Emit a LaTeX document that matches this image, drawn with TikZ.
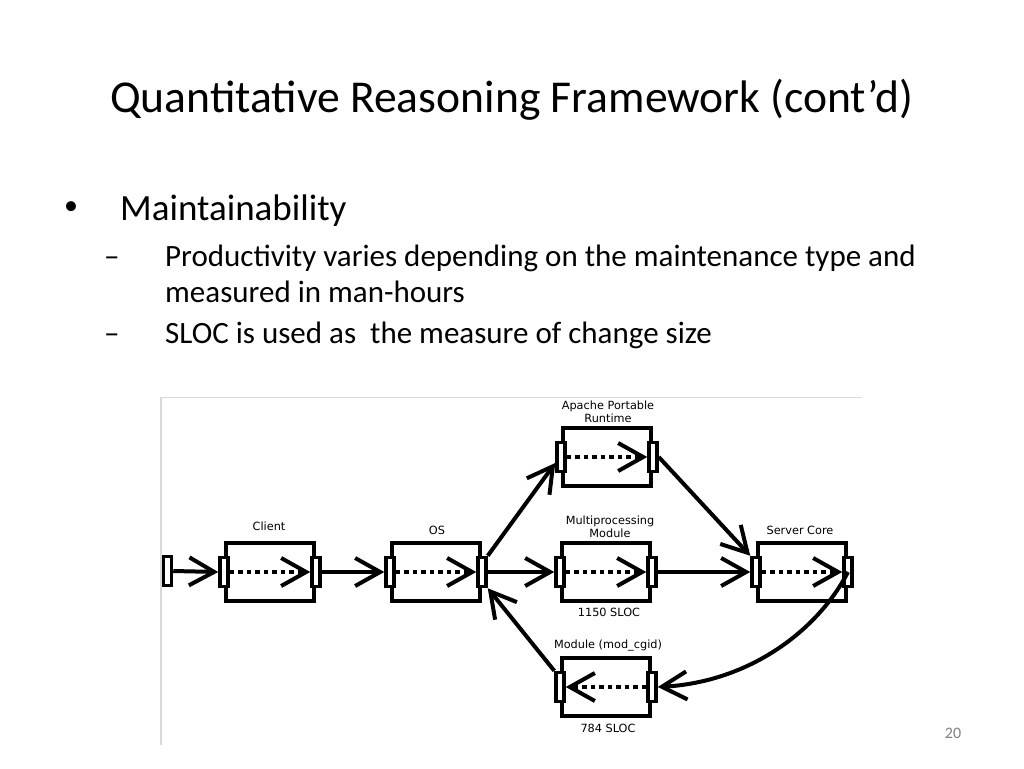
\documentclass[tikz,border=0pt]{standalone}
\usepackage{fontspec}
\setmainfont{Carlito}
\newfontfamily\diagfont{DejaVu Sans}
\usetikzlibrary{arrows.meta,calc}
\begin{document}
\begin{tikzpicture}[x=1pt,y=-1pt,
  box/.style={draw,line width=4pt,minimum width=88pt,minimum height=58pt,inner sep=0pt},
  port/.style={draw,fill=white,line width=3.5pt,minimum width=8pt,minimum height=29pt,inner sep=0pt},
  conn/.style={line width=4pt,-{Straight Barb[length=25pt,width=28pt,line width=4pt]}},
  inner/.style={conn,dash pattern=on 4.5pt off 4pt},
  lbl/.style={font=\diagfont\fontsize{11.3}{13.5}\selectfont,align=center,inner sep=0pt},
  txt/.style={anchor=base west,inner sep=0pt}
]
\useasboundingbox (0,0) rectangle (1024,768);
\fill[white] (0,0) rectangle (1024,768);
% slide text
\node[txt,font=\fontsize{45.6}{50}\selectfont] (title) at (110,112) {Quantitative Reasoning Framework (cont’d)};
\node[txt,font=\fontsize{28}{30}\selectfont] (b1) at (64,214) {•};
\node[txt,font=\fontsize{37}{42}\selectfont] (t1) at (120,220) {Maintainability};
\node[txt,font=\fontsize{31}{36}\selectfont] (d1) at (104,266) {–};
\node[txt,font=\fontsize{31}{36}\selectfont] (t2) at (165,266) {Productivity varies depending on the maintenance type and};
\node[txt,font=\fontsize{31}{36}\selectfont] (t3) at (165,302) {measured in man-hours};
\node[txt,font=\fontsize{31}{36}\selectfont] (d2) at (104,343) {–};
\node[txt,font=\fontsize{31}{36}\selectfont] (t4) at (165,343) {SLOC is used as\ \ the measure of change size};
\node[font=\fontsize{16}{18}\selectfont,text=black!50] (pg) at (953,733) {20};
% image frame
\draw[line width=1.5pt,black!15] (161,745) -- (161,397.5) -- (862,397.5);
% boxes
\node[box] (client) at (270,572) {};
\node[box] (os) at (436,572) {};
\node[box] (apr) at (607,457) {};
\node[box] (mpm) at (606,572) {};
\node[box] (sc) at (802,572) {};
\node[box] (cgi) at (606,687) {};
% ports
\node[port] (entry) at (167.5,571) {};
\node[port] (clientL) at (client.west) {};
\node[port] (clientR) at (client.east) {};
\node[port] (osL) at (os.west) {};
\node[port] (osR) at (os.east) {};
\node[port] (aprL) at (apr.west) {};
\node[port] (aprR) at (apr.east) {};
\node[port] (mpmL) at (mpm.west) {};
\node[port] (mpmR) at (mpm.east) {};
\node[port] (scL) at (sc.west) {};
\node[port] (scR) at (sc.east) {};
\node[port] (cgiL) at (cgi.west) {};
\node[port] (cgiR) at (cgi.east) {};
% labels
\node[lbl] (lclient) at (269,526) {Client};
\node[lbl] (los) at (437,530) {OS};
\node[lbl] (lapr) at (608,412) {Apache Portable\\Runtime};
\node[lbl] (lmpm) at (610,527) {Multiprocessing\\Module};
\node[lbl] (lsc) at (800,530) {Server Core};
\node[lbl] (smpm) at (609,612) {1150 SLOC};
\node[lbl] (lcgi) at (608,646) {Module (mod\_cgid)};
\node[lbl] (scgi) at (608,728) {784 SLOC};
% inner dotted arrows
\draw[inner] (clientL.east) -- (clientR.west);
\draw[inner] (osL.east) -- (osR.west);
\draw[inner] (aprL.east) -- (aprR.west);
\draw[inner] (mpmL.east) -- (mpmR.west);
\draw[inner] (scL.east) -- (scR.west);
\draw[inner] (cgiR.west) -- (cgiL.east);
% connectors
\draw[conn] (entry.east) -- (clientL.west);
\draw[conn] (clientR.east) -- (osL.west);
\draw[conn] (osR.east) -- (mpmL.west);
\draw[conn] (osR.north east) -- ($(aprL.west)+(0,6)$);
\draw[conn] (aprR.east) -- (scL.north west);
\draw[conn] (mpmR.east) -- (scL.west);
\draw[conn] (cgiL.north west) -- (osR.south east);
\draw[conn] (scR.center) .. controls (818,630) and (750,682) .. (cgiR.east);
\end{tikzpicture}
\end{document}
